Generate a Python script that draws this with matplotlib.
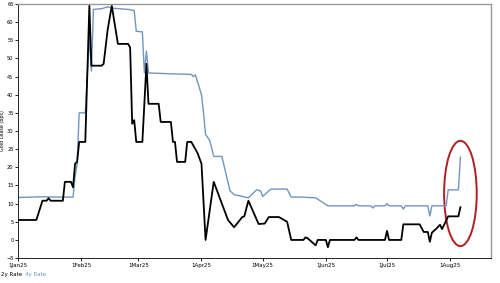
import numpy as np
import pandas as pd
import matplotlib
matplotlib.use("Agg")
import matplotlib.pyplot as plt
import matplotlib.dates as mdates
from matplotlib.patches import Ellipse

# 2y gold lease rate (bps)
dates_2y = ["2025-01-01", "2025-01-10", "2025-01-13", "2025-01-15", "2025-01-16", "2025-01-17",
            "2025-01-23", "2025-01-24", "2025-01-27", "2025-01-28", "2025-01-29", "2025-01-30",
            "2025-01-31", "2025-02-03", "2025-02-05", "2025-02-06", "2025-02-11", "2025-02-12",
            "2025-02-14", "2025-02-16", "2025-02-19", "2025-02-24", "2025-02-25", "2025-02-26",
            "2025-02-27", "2025-02-28", "2025-03-03", "2025-03-05", "2025-03-06", "2025-03-11",
            "2025-03-12", "2025-03-17", "2025-03-18", "2025-03-19", "2025-03-20", "2025-03-24",
            "2025-03-25", "2025-03-27", "2025-03-30", "2025-04-01", "2025-04-03", "2025-04-07",
            "2025-04-09", "2025-04-14", "2025-04-17", "2025-04-21", "2025-04-22", "2025-04-24",
            "2025-04-29", "2025-05-02", "2025-05-04", "2025-05-09", "2025-05-13", "2025-05-15",
            "2025-05-21", "2025-05-22", "2025-05-23", "2025-05-27", "2025-05-28", "2025-06-01",
            "2025-06-02", "2025-06-03", "2025-06-15", "2025-06-16", "2025-06-17", "2025-06-30",
            "2025-07-01", "2025-07-02", "2025-07-08", "2025-07-09", "2025-07-17", "2025-07-19",
            "2025-07-21", "2025-07-22", "2025-07-23", "2025-07-25", "2025-07-27", "2025-07-28",
            "2025-07-31", "2025-08-05", "2025-08-06"]
rate_2y = [5.5, 5.5, 10.8, 10.8, 11.5, 10.8,
           10.8, 16, 16, 14.5, 21, 21.5,
           27, 27, 64.5, 48, 48, 48.5,
           58, 64.5, 54, 54, 53, 32,
           33, 27, 27, 48.5, 37.5, 37.5,
           32.5, 32.5, 27, 27, 21.5, 21.5,
           27, 27, 24, 21, 0, 16,
           13, 5.5, 3.5, 6.3, 6.5, 10.8,
           4.4, 4.5, 6.3, 6.3, 5, 0,
           0, 0.7, 0.5, -1.5, 0, 0,
           -2, 0, 0, 0.7, 0, 0,
           2.5, 0, 0, 4.3, 4.3, 2.2,
           2.2, -0.5, 2, 3, 4.2, 3,
           6.5, 6.5, 9]

# 4y gold lease rate (bps)
dates_4y = ["2025-01-01", "2025-01-14", "2025-01-20", "2025-01-28", "2025-01-29", "2025-01-30",
            "2025-01-31", "2025-02-03", "2025-02-05", "2025-02-06", "2025-02-07", "2025-02-11",
            "2025-02-14", "2025-02-17", "2025-02-24", "2025-02-27", "2025-02-28", "2025-03-03",
            "2025-03-04", "2025-03-05", "2025-03-06", "2025-03-15", "2025-03-27", "2025-03-28",
            "2025-03-29", "2025-04-01", "2025-04-02", "2025-04-03", "2025-04-05", "2025-04-07",
            "2025-04-11", "2025-04-15", "2025-04-17", "2025-04-24", "2025-04-28", "2025-04-30",
            "2025-05-01", "2025-05-05", "2025-05-13", "2025-05-15", "2025-05-20", "2025-05-27",
            "2025-06-02", "2025-06-15", "2025-06-16", "2025-06-17", "2025-06-23", "2025-06-24",
            "2025-06-25", "2025-06-30", "2025-07-01", "2025-07-02", "2025-07-08", "2025-07-09",
            "2025-07-10", "2025-07-21", "2025-07-22", "2025-07-23", "2025-07-30", "2025-07-31",
            "2025-08-05", "2025-08-06"]
rate_4y = [11.7, 11.9, 11.8, 11.8, 17.5, 21,
           35, 35, 56, 46.5, 63.5, 63.7,
           64.2, 63.8, 63.5, 63.2, 57.5, 57.3,
           46, 52, 46, 45.8, 45.6, 45,
           45.5, 40, 35, 29, 27.5, 23,
           23, 13.5, 12.5, 11.6, 13.8, 13.5,
           12, 14, 14, 11.8, 11.8, 11.6,
           9.4, 9.4, 9.8, 9.4, 9.4, 8.8,
           9.4, 9.4, 10, 9.4, 9.4, 8.5,
           9.4, 9.4, 6.6, 9.4, 9.4, 13.8,
           13.8, 22.8]

month_ticks = ["2025-01-01", "2025-02-01", "2025-03-01", "2025-04-01",
               "2025-05-01", "2025-06-01", "2025-07-01", "2025-08-01"]
month_labels = ["1Jan25", "1Feb25", "1Mar25", "1Apr25", "1May25", "1Jun25", "1Jul25", "1Aug25"]

x2 = pd.to_datetime(dates_2y)
x4 = pd.to_datetime(dates_4y)

blue = "#7096c0"

fig = plt.figure(figsize=(5.0, 2.83), dpi=100)
ax = fig.add_axes([0.036, 0.088, 0.946, 0.898])

ax.plot(x4, rate_4y, color=blue, lw=1.0)
ax.plot(x2, rate_2y, color="black", lw=1.3)

ax.set_xlim(pd.Timestamp("2025-01-01"), pd.Timestamp("2025-08-21"))
ax.set_ylim(-5, 65)
ax.set_yticks(np.arange(-5, 66, 5))
ax.set_xticks(pd.to_datetime(month_ticks))
ax.set_xticklabels(month_labels)
ax.tick_params(labelsize=4, length=2, width=0.6, pad=1.2)
ax.tick_params(axis="y", labelsize=3.7)

# y label squeezed into the narrow left margin
fig.text(0.0, 0.537, "Gold Lease (bps)", fontsize=3.5, rotation=90,
         ha="left", va="center")

for s in ["top", "right"]:
    ax.spines[s].set_color("#999999")
    ax.spines[s].set_linewidth(1.0)
for s in ["left", "bottom"]:
    ax.spines[s].set_color("black")
    ax.spines[s].set_linewidth(0.6)

# red ellipse highlighting the latest jump
xc = mdates.date2num(pd.Timestamp("2025-08-06"))
ax.add_patch(Ellipse((xc, 12.8), 16, 29, fill=False, edgecolor="#b01f24", lw=1.4))

fig.text(0.002, 0.025, "2y Rate", fontsize=4, color="black")
fig.text(0.05, 0.025, "4y Rate", fontsize=4, color=blue)

fig.savefig("out.png", dpi=100)
